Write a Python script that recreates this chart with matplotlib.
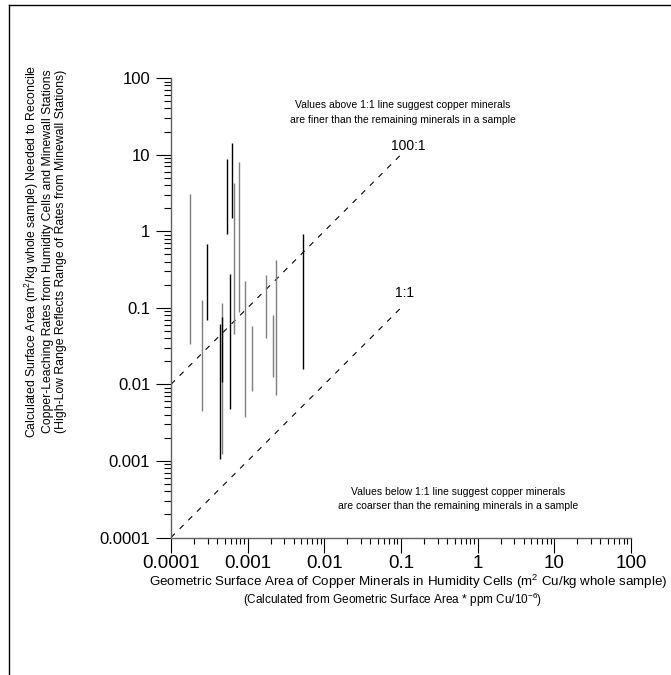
import matplotlib
matplotlib.use("Agg")
import matplotlib.pyplot as plt
from matplotlib.lines import Line2D
from matplotlib.ticker import LogLocator, FixedLocator, FixedFormatter

plt.rcParams['font.family'] = ['Liberation Sans', 'DejaVu Sans']
plt.rcParams['mathtext.fontset'] = 'custom'
plt.rcParams['mathtext.rm'] = 'Liberation Sans'

# geometric surface area of copper minerals (x) and high/low calculated area (y)
geo_area = [1.75e-4, 2.92e-4, 2.5e-4, 4.3e-4, 4.58e-4, 4.62e-4, 5.42e-4, 6.18e-4,
            5.87e-4, 6.62e-4, 7.7e-4, 9.2e-4, 1.15e-3, 1.73e-3, 2.14e-3, 2.32e-3, 5.3e-3]
high_area = [3.1, 0.67, 0.125, 0.062, 0.116, 0.076, 8.7, 14.0,
             0.28, 4.2, 8.05, 0.222, 0.057, 0.266, 0.081, 0.42, 0.905]
low_area = [0.034, 0.070, 0.0045, 0.00107, 0.00124, 0.0107, 0.93, 1.47,
            0.0047, 0.046, 0.088, 0.0037, 0.0082, 0.040, 0.0124, 0.0072, 0.0157]
is_black = [False, True, False, True, False, True, True, True,
            True, False, False, False, False, False, False, False, True]

ref_x = [1e-4, 0.1]
ratios = {'1:1': 1, '100:1': 100}

tick_vals = [1e-4, 1e-3, 1e-2, 1e-1, 1, 10, 100]
tick_labels = ['0.0001', '0.001', '0.01', '0.1', '1', '10', '100']

fig = plt.figure(figsize=(6.71, 6.75), dpi=100)
ax = fig.add_axes([171 / 671, 1 - 537.5 / 675, 460 / 671, 459.5 / 675])
ax.set_xscale('log')
ax.set_yscale('log')
ax.set_xlim(1e-4, 100)
ax.set_ylim(1e-4, 100)

# high-low ranges
for x, hi, lo, blk in zip(geo_area, high_area, low_area, is_black):
    ax.vlines(x, lo, hi, colors='black' if blk else '#7f7f7f', linewidth=1.0, zorder=3)

# reference lines
for name, r in ratios.items():
    ax.plot(ref_x, [v * r for v in ref_x], color='black', linewidth=0.8,
            linestyle=(0, (5, 6)), zorder=2)
ax.text(0.075, 13, '100:1', fontsize=10, ha='left', va='center')
ax.text(0.083, 0.155, '1:1', fontsize=10, ha='left', va='center')

ax.text(0.504, 0.925, 'Values above 1:1 line suggest copper minerals\n'
        'are finer than the remaining minerals in a sample',
        transform=ax.transAxes, fontsize=7.5, ha='center', va='center', linespacing=1.55)
ax.text(0.624, 0.083, 'Values below 1:1 line suggest copper minerals\n'
        'are coarser than the remaining minerals in a sample',
        transform=ax.transAxes, fontsize=7.5, ha='center', va='center', linespacing=1.5)

for side in ('top', 'right'):
    ax.spines[side].set_visible(False)
for side in ('left', 'bottom'):
    ax.spines[side].set_color('#606060')
    ax.spines[side].set_linewidth(1.0)

minor = LogLocator(base=10, subs=range(2, 10), numticks=20)
for axis in (ax.xaxis, ax.yaxis):
    axis.set_major_locator(FixedLocator(tick_vals))
    axis.set_major_formatter(FixedFormatter(tick_labels))
    axis.set_minor_locator(minor)
ax.tick_params(which='major', direction='out', length=11, width=0.8)
ax.tick_params(axis='y', which='minor', direction='out', length=5, width=0.8)
ax.tick_params(axis='x', which='minor', direction='out', length=4, width=0.8)
ax.tick_params(axis='x', which='major', pad=1.5, labelsize=13.5)
ax.tick_params(axis='y', which='major', pad=4, labelsize=12)

fig.text(45 / 671, 1 - 251 / 675,
         'Calculated Surface Area (m$\\mathregular{^2}$/kg whole sample) Needed to Reconcile\n'
         'Copper-Leaching Rates from Humidity Cells and Minewall Stations\n'
         '(High-Low Range Reflects Range of Rates from Minewall Stations)',
         rotation=90, fontsize=8.8, ha='center', va='center', linespacing=1.15)
fig.text(408 / 671, 1 - 582 / 675,
         'Geometric Surface Area of Copper Minerals in Humidity Cells (m$\\mathregular{^2}$ Cu/kg whole sample)',
         fontsize=9.6, ha='center', va='center')
fig.text(393 / 671, 1 - 600 / 675,
         '(Calculated from Geometric Surface Area * ppm Cu/10$\\mathregular{^{-6}}$)',
         fontsize=8.5, ha='center', va='center')

# page frame
fig.add_artist(Line2D([9 / 671, 9 / 671], [0, 1 - 5 / 675], transform=fig.transFigure,
                      color='black', linewidth=1.0))
fig.add_artist(Line2D([9 / 671, 1], [1 - 5 / 675, 1 - 5 / 675], transform=fig.transFigure,
                      color='black', linewidth=1.0))

fig.savefig('out.png', dpi=100)
